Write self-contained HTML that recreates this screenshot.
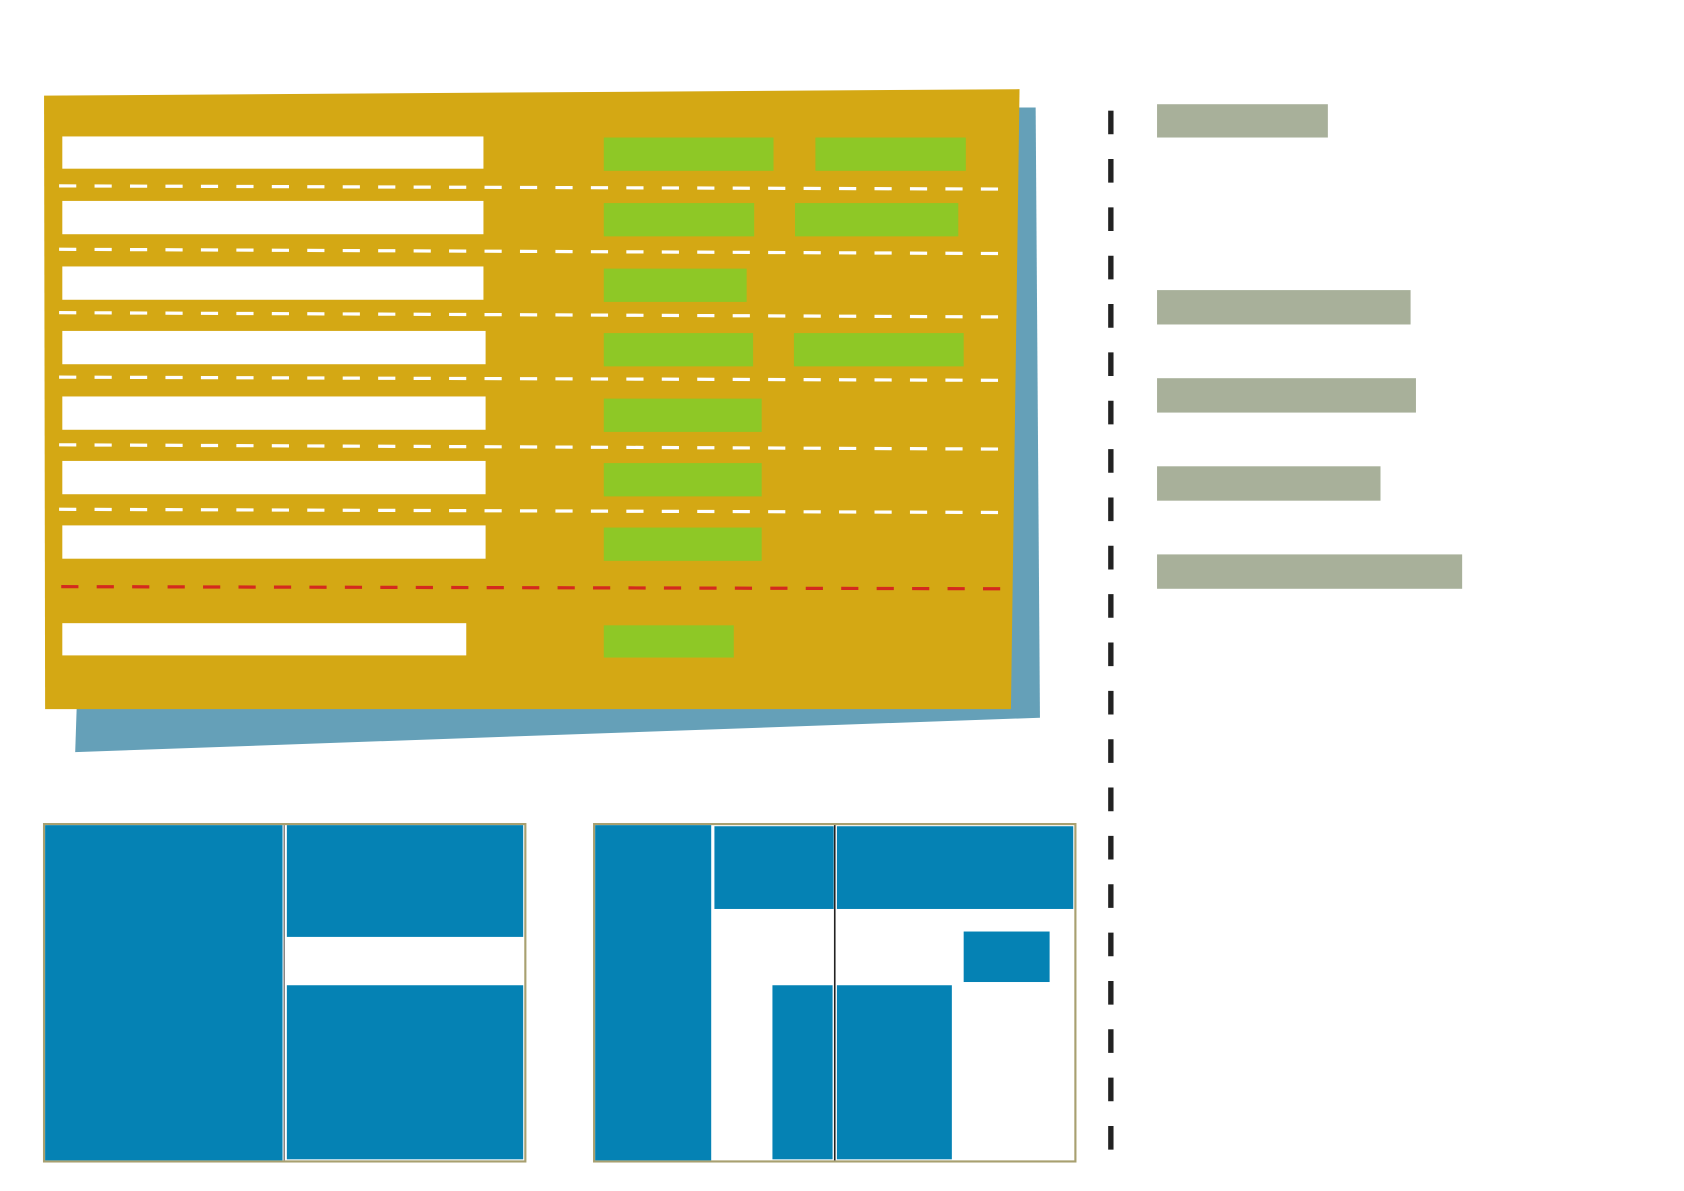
<!DOCTYPE html>
<html><head><style>html,body{margin:0;padding:0;background:#fff}svg{display:block}</style></head>
<body>
<svg width="1684" height="1191" viewBox="0 0 1567.5 1108.5" preserveAspectRatio="none" xmlns="http://www.w3.org/2000/svg">
<polygon points="90,100 964,100 968,668 70,700" fill="#65a0b8"/>
<polygon points="41,89 949,83 941,660 42,660" fill="#d4a814"/>
<g fill="#fff">
<rect x="58" y="127" width="392" height="30"/>
<rect x="58" y="187" width="392" height="31"/>
<rect x="58" y="248" width="392" height="31"/>
<rect x="58" y="308" width="394" height="31"/>
<rect x="58" y="369" width="394" height="31"/>
<rect x="58" y="429" width="394" height="31"/>
<rect x="58" y="489" width="394" height="31"/>
<rect x="58" y="580" width="376" height="30"/>
</g>
<g fill="#8ec826">
<rect x="562" y="128" width="158" height="31"/><rect x="759" y="128" width="140" height="31"/>
<rect x="562" y="189" width="140" height="31"/><rect x="740" y="189" width="152" height="31"/>
<rect x="562" y="250" width="133" height="31"/>
<rect x="562" y="310" width="139" height="31"/><rect x="739" y="310" width="158" height="31"/>
<rect x="562" y="371" width="147" height="31"/>
<rect x="562" y="431" width="147" height="31"/>
<rect x="562" y="491" width="147" height="31"/>
<rect x="562" y="582" width="121" height="30"/>
</g>
<g stroke="#fff" stroke-width="3" stroke-dasharray="16,17" fill="none">
<line x1="55" y1="173" x2="937" y2="176"/>
<line x1="55" y1="232" x2="937" y2="236"/>
<line x1="55" y1="291" x2="937" y2="295"/>
<line x1="55" y1="351" x2="937" y2="354"/>
<line x1="55" y1="414" x2="937" y2="418"/>
<line x1="55" y1="474" x2="937" y2="477"/>
</g>
<line x1="57" y1="546" x2="938" y2="548" stroke="#d42a1e" stroke-width="3" stroke-dasharray="16,17"/>
<line x1="1034" y1="103" x2="1034" y2="1077" stroke="#222" stroke-width="5" stroke-dasharray="22,23"/>
<g fill="#a8b09a">
<rect x="1077" y="97" width="159" height="31"/>
<rect x="1077" y="270" width="236" height="32"/>
<rect x="1077" y="352" width="241" height="32"/>
<rect x="1077" y="434" width="208" height="32"/>
<rect x="1077" y="516" width="284" height="32"/>
</g>
<rect x="41" y="767" width="448" height="314" fill="#fff" stroke="#a8a070" stroke-width="2"/>
<g fill="#0582b4">
<rect x="42" y="768" width="221" height="312"/>
<rect x="267" y="768" width="220" height="104"/>
<rect x="267" y="917" width="220" height="162"/>
</g>
<line x1="264.5" y1="768" x2="264.5" y2="1080" stroke="#555" stroke-width="1"/>
<rect x="553" y="767" width="448" height="314" fill="#fff" stroke="#a8a070" stroke-width="2"/>
<g fill="#0582b4">
<rect x="554" y="768" width="108" height="312"/>
<rect x="665" y="769" width="111" height="77"/>
<rect x="779" y="769" width="220" height="77"/>
<rect x="897" y="867" width="80" height="47"/>
<rect x="719" y="917" width="56" height="162"/>
<rect x="779" y="917" width="107" height="162"/>
</g>
<line x1="777" y1="768" x2="777" y2="1080" stroke="#222" stroke-width="1.5"/>
</svg>
</body></html>
